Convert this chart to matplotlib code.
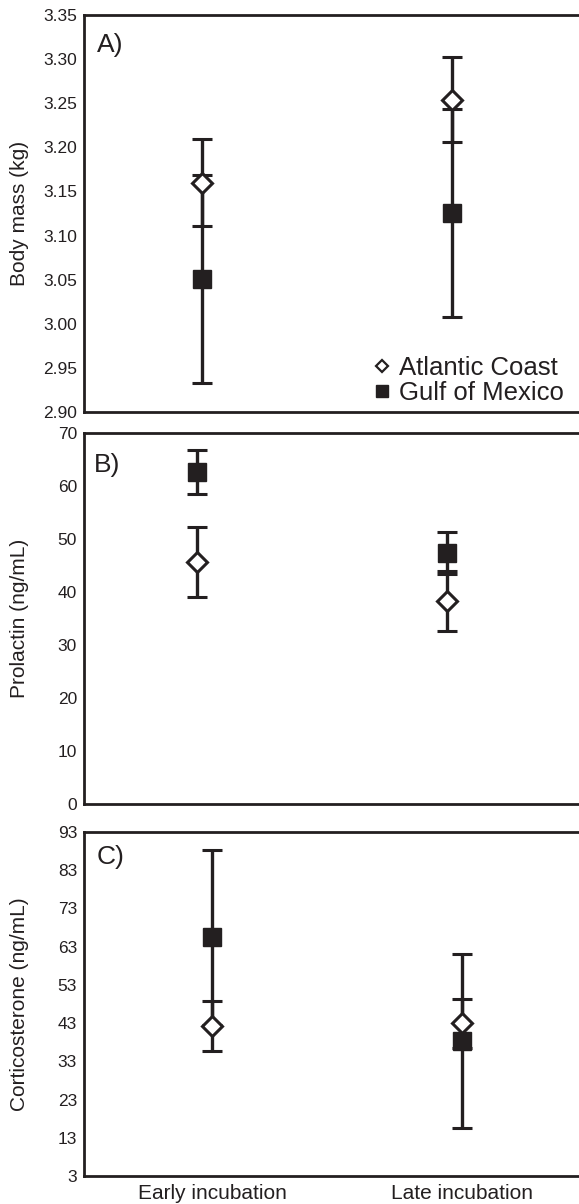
import matplotlib
matplotlib.use("Agg")
import matplotlib.pyplot as plt
from matplotlib.lines import Line2D

plt.rcParams['font.family'] = ['Liberation Sans', 'DejaVu Sans']

INK = "#231f20"

# data (means and error half-widths)
stages = ["Early incubation", "Late incubation"]

mass_atlantic = [3.160, 3.254]
mass_atlantic_err = [0.049, 0.048]
mass_gulf = [3.051, 3.126]
mass_gulf_err = [0.118, 0.118]

prl_atlantic = [45.7, 38.3]
prl_atlantic_err = [6.6, 5.6]
prl_gulf = [62.6, 47.4]
prl_gulf_err = [4.2, 4.0]

cort_atlantic = [42.2, 42.9]
cort_atlantic_err = [6.5, 6.4]
cort_gulf = [65.4, 38.3]
cort_gulf_err = [22.8, 22.7]

mass_ticks = [2.90, 2.95, 3.00, 3.05, 3.10, 3.15, 3.20, 3.25, 3.30, 3.35]
prl_ticks = [0, 10, 20, 30, 40, 50, 60, 70]
cort_ticks = [3, 13, 23, 33, 43, 53, 63, 73, 83, 93]

W, H = 579, 1204
fig = plt.figure(figsize=(W / 100, H / 100), dpi=100)


def make_axes(top_px, bottom_px):
    left_px, right_px = 84, 587
    return fig.add_axes([left_px / W, 1 - bottom_px / H,
                         (right_px - left_px) / W, (bottom_px - top_px) / H])


def draw_panel(ax, shift, atl, atl_err, gulf, gulf_err, ticks, fmt):
    xs = [i + 1 + shift for i in range(len(stages))]
    ebkw = dict(fmt="none", ecolor=INK, elinewidth=2.4, capsize=7.5,
                capthick=2.2, zorder=2)
    ax.errorbar(xs, gulf, yerr=gulf_err, **ebkw)
    ax.errorbar(xs, atl, yerr=atl_err, **ebkw)
    ax.plot(xs, gulf, linestyle="none", marker="s", ms=12.5,
            color=INK, zorder=3)
    ax.plot(xs, atl, linestyle="none", marker="D", ms=10,
            markerfacecolor="white", markeredgecolor=INK, mew=2.2, zorder=4)
    ax.set_xlim(0.488, 2.5)
    ax.set_ylim(ticks[0], ticks[-1])
    ax.set_yticks(ticks)
    ax.set_yticklabels([fmt.format(t) for t in ticks])
    ax.tick_params(axis="y", length=0, pad=5, labelsize=12.5, labelcolor=INK)
    ax.tick_params(axis="x", length=0, pad=6, labelsize=15, labelcolor=INK)
    for side in ["left", "top", "bottom"]:
        ax.spines[side].set_linewidth(2.0)
        ax.spines[side].set_color(INK)
    ax.spines["right"].set_visible(False)


axA = make_axes(15, 412)
draw_panel(axA, -0.04, mass_atlantic, mass_atlantic_err, mass_gulf,
           mass_gulf_err, mass_ticks, "{:.2f}")
axA.set_xticks([])

axB = make_axes(433, 804)
draw_panel(axB, -0.06, prl_atlantic, prl_atlantic_err, prl_gulf,
           prl_gulf_err, prl_ticks, "{:d}")
axB.set_xticks([])

axC = make_axes(832, 1176)
draw_panel(axC, 0.0, cort_atlantic, cort_atlantic_err, cort_gulf,
           cort_gulf_err, cort_ticks, "{:d}")
axC.set_xticks([1, 2])
axC.set_xticklabels(stages)

# y labels and panel letters
for label, yc in [("Body mass (kg)", 213), ("Prolactin (ng/mL)", 618),
                  ("Corticosterone (ng/mL)", 1004)]:
    fig.text(20 / W, 1 - yc / H, label, rotation=90, ha="center",
             va="center", fontsize=15, color=INK)

for letter, xl, yc in [("A)", 97, 45), ("B)", 94, 465), ("C)", 97, 857)]:
    fig.text(xl / W, 1 - yc / H, letter, ha="left", va="center",
             fontsize=19, color=INK)

# legend
handles = [
    Line2D([], [], linestyle="none", marker="D", ms=6.5,
           markerfacecolor="white", markeredgecolor=INK, mew=1.6),
    Line2D([], [], linestyle="none", marker="s", ms=8.5, color=INK),
]
axA.legend(handles, ["Atlantic Coast", "Gulf of Mexico"], frameon=False,
           loc="lower left", bbox_to_anchor=(373 / W, 1 - 405 / H),
           bbox_transform=fig.transFigure, borderpad=0, borderaxespad=0,
           handlelength=0.7, handletextpad=0.3, labelspacing=0.05,
           fontsize=18.5, labelcolor=INK)

fig.savefig("out.png", dpi=100)
